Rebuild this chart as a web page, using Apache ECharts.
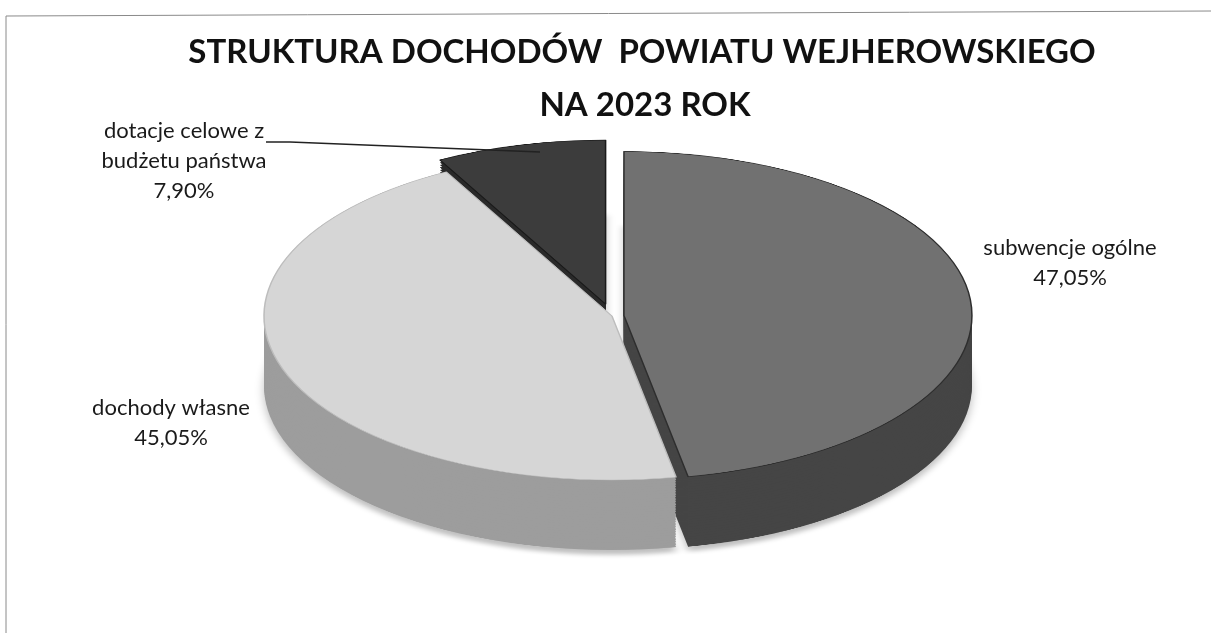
<!DOCTYPE html>
<html>
<head>
<meta charset="utf-8">
<script src="https://cdn.jsdelivr.net/npm/echarts@6/dist/echarts.min.js"></script>
<style>
    html, body { margin: 0; padding: 0; background: #ffffff; overflow: hidden; }
    #wrap { position: relative; width: 1211px; height: 633px; overflow: hidden; }
    #pie { position: absolute; left: 0; top: 0; width: 1211px; transform-origin: 0 0; }
    #chart { position: absolute; left: 0; top: 0; width: 1211px; height: 633px; }
</style>
</head>
<body>
<div id="wrap">
    <div id="pie"></div>
    <div id="chart"></div>
</div>
<script>
// dane
var categories = ['subwencje ogólne', 'dochody własne', 'dotacje celowe z\nbudżetu państwa'];
var values = [47.05, 45.05, 7.90];
var titleLines = ['STRUKTURA DOCHODÓW  POWIATU WEJHEROWSKIEGO', 'NA 2023 ROK'];

// wygląd
var topColors = ['#717171', '#d6d6d6', '#3c3c3c'];
var topBorders = ['#2e2e2e', '#bdbdbd', '#1a1a1a'];
var sideColors = ['#454545', '#9d9d9d', '#2a2a2a'];
var explode = [12, 0, 26];

var RX = 348, RY = 164, CX = 612, CY = 316, DEPTH = 70, LAYERS = 28;
var K = RY / RX;

function fmt(v) {
    return v.toFixed(2).replace('.', ',') + '%';
}

/**
 * seria jednego wycinka (pozostałe przezroczyste)
 */
function sliceSeries(idx, color, offsetY, extraStyle) {
    var data = [];
    for (var i = 0; i < values.length; i++) {
        var style = {color: i === idx ? color : 'rgba(0,0,0,0)'};
        if (i === idx && extraStyle) {
            Object.assign(style, extraStyle);
        }
        data.push({
            name: categories[i],
            value: values[i],
            selected: i === idx && explode[idx] > 0,
            itemStyle: style
        });
    }
    return {
        type: 'pie',
        silent: true,
        animation: false,
        radius: RX,
        center: [CX, CY / K + offsetY],
        startAngle: 90,
        clockwise: true,
        avoidLabelOverlap: false,
        selectedMode: 'multiple',
        selectedOffset: explode[idx],
        label: {show: false},
        labelLine: {show: false},
        emphasis: {disabled: true},
        select: {itemStyle: {color: color}},
        data: data
    };
}

/**
 * wykres kołowy "3D" (spłaszczony przez scaleY)
 */
function pieChart() {
    var el = document.getElementById('pie');
    el.style.height = Math.round(633 / K) + 'px';
    el.style.transform = 'scaleY(' + K + ')';
    var myChart = echarts.init(el, null, {renderer: 'canvas'});
    var series = [];
    var step = DEPTH / K / LAYERS;
    for (var j = LAYERS; j >= 1; j--) {
        for (var i = 0; i < values.length; i++) {
            var extra = j === LAYERS ? {shadowBlur: 10, shadowOffsetY: 10, shadowColor: 'rgba(0,0,0,0.25)'} : null;
            series.push(sliceSeries(i, sideColors[i], j * step, extra));
        }
    }
    for (var i = 0; i < values.length; i++) {
        series.push(sliceSeries(i, topColors[i], 0, {borderColor: topBorders[i], borderWidth: 1.5}));
    }
    myChart.setOption({animation: false, series: series}, true);
}

/**
 * tytuł, etykiety i ramka
 */
function overlayChart() {
    var myChart = echarts.init(document.getElementById('chart'), null, {renderer: 'canvas'});
    var labelFont = {fontFamily: 'Lato', fontSize: 22, fill: '#1a1a1a', align: 'center', lineHeight: 30};
    var titleFont = {fontFamily: 'Lato', fontWeight: 'bold', fontSize: 33, fill: '#111', align: 'center'};
    var option = {
        animation: false,
        graphic: [
            {type: 'line', shape: {x1: 6, y1: 16, x2: 1211, y2: 11}, style: {stroke: '#8a8a8a', lineWidth: 1}},
            {type: 'line', shape: {x1: 6, y1: 16, x2: 6, y2: 633}, style: {stroke: '#8a8a8a', lineWidth: 1}},
            {type: 'text', x: 642, y: 36, style: Object.assign({text: titleLines[0]}, titleFont)},
            {type: 'text', x: 645, y: 89, style: Object.assign({text: titleLines[1]}, titleFont)},
            {
                type: 'text', x: 1070, y: 233,
                style: Object.assign({text: categories[0] + '\n' + fmt(values[0])}, labelFont)
            },
            {
                type: 'text', x: 171, y: 393,
                style: Object.assign({text: categories[1] + '\n' + fmt(values[1])}, labelFont)
            },
            {
                type: 'text', x: 184, y: 116,
                style: Object.assign({text: categories[2] + '\n' + fmt(values[2])}, labelFont)
            },
            {
                type: 'polyline',
                shape: {points: [[266, 142], [290, 142], [540, 152]]},
                style: {stroke: '#222', lineWidth: 1.5, fill: null}
            }
        ]
    };
    myChart.setOption(option, true);
}

pieChart();
overlayChart();
</script>
</body>
</html>
